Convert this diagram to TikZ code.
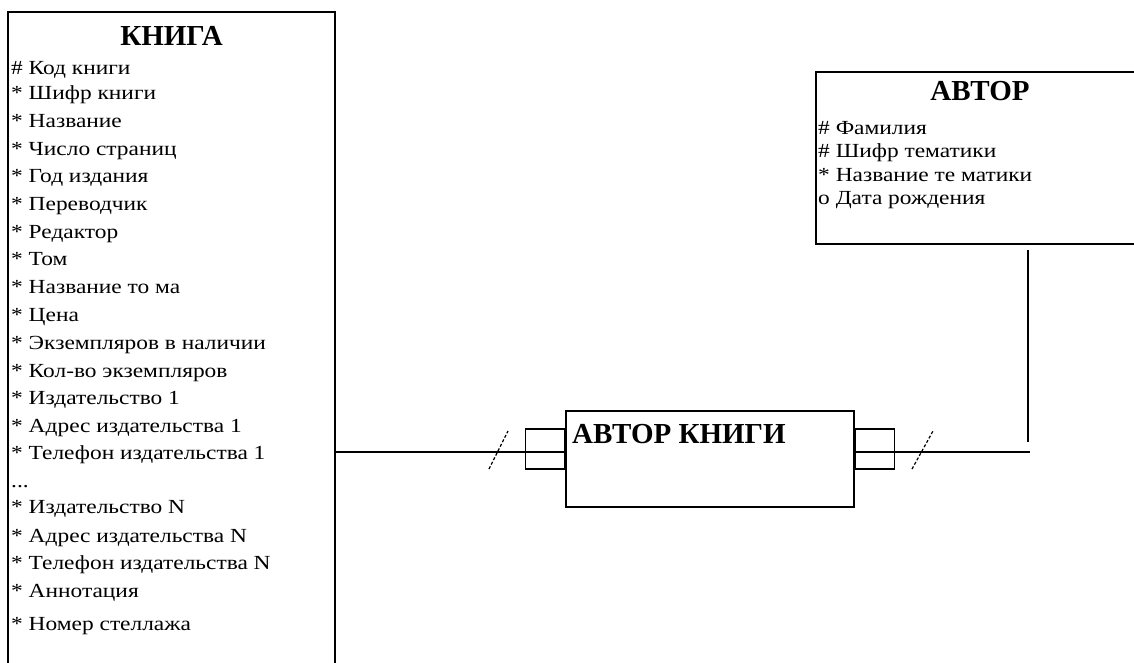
\documentclass[tikz,border=0pt]{standalone}
\usepackage{fontspec}
\setmainfont{Liberation Serif}
\newfontfamily\attrfont[FakeStretch=1.17]{Liberation Serif}
\usetikzlibrary{positioning,calc}

\tikzset{
  attr/.style={anchor=base west,inner sep=0pt,font=\attrfont\fontsize{20}{24}\selectfont},
  ttl/.style={anchor=base,inner sep=0pt,font=\fontsize{29}{34}\selectfont\bfseries},
  ent/.style={line width=1.2pt},
  stub/.style={draw,line width=1.2pt,minimum width=39pt,minimum height=40pt,inner sep=0pt},
  slash/.style={line width=1.2pt,dash pattern=on 3pt off 2pt},
}

\begin{document}
\begin{tikzpicture}[x=1pt,y=-1pt]
\useasboundingbox (0,0) rectangle (1134,662);

\draw[ent] (8,670) -- (8,12) -- (335,12) -- (335,670);
\node[ttl] (kniga) at (171.5,45) {КНИГА};
\foreach \y/\t [count=\i] in {74/{\# Код книги},99/{* Шифр книги},127/{* Название},
  155/{* Число страниц},182/{* Год издания},210/{* Переводчик},238/{* Редактор},
  265/{* Том},293/{* Название то ма},321/{* Цена},349/{* Экземпляров в наличии},
  377/{* Кол-во экземпляров},404/{* Издательство 1},432/{* Адрес издательства 1},
  459/{* Телефон издательства 1},487/{...},513/{* Издательство N},
  542/{* Адрес издательства N},569/{* Телефон издательства N},597/{* Аннотация},
  630/{* Номер стеллажа}}
  \node[attr] (k\i) at (11,\y) {\t};

\draw[ent] (1140,72) -- (816,72) -- (816,244) -- (1140,244);
\node[ttl] (avtor) at (980,100) {АВТОР};
\foreach \y/\t [count=\i] in {134/{\# Фамилия},157/{\# Шифр тематики},
  181/{* Название те матики},204/{o Дата рождения}}
  \node[attr] (a\i) at (818,\y) {\t};

\node[draw,ent,minimum width=288pt,minimum height=96pt,inner sep=0pt] (avkn) at (710,459) {};
\node[ttl,anchor=base west] (avknt) at (572,443) {АВТОР КНИГИ};
\node[stub,anchor=east] (stubL) at ($(avkn.west)+(0,-10)$) {};
\node[stub,anchor=west] (stubR) at ($(avkn.east)+(0,-10)$) {};

\coordinate (kR) at (335,452);
\coordinate (aR) at (1030,452);
\coordinate (vT) at (1028,250);
\coordinate (vB) at (1028,442);
\draw[ent] (kR) -- (kR -| avkn.west);
\draw[ent] (aR -| avkn.east) -- (aR);
\draw[ent] (vT) -- (vB);

\draw[slash] (489,469) -- (508,431);
\draw[slash] (912,469) -- (933,431);
\end{tikzpicture}
\end{document}
